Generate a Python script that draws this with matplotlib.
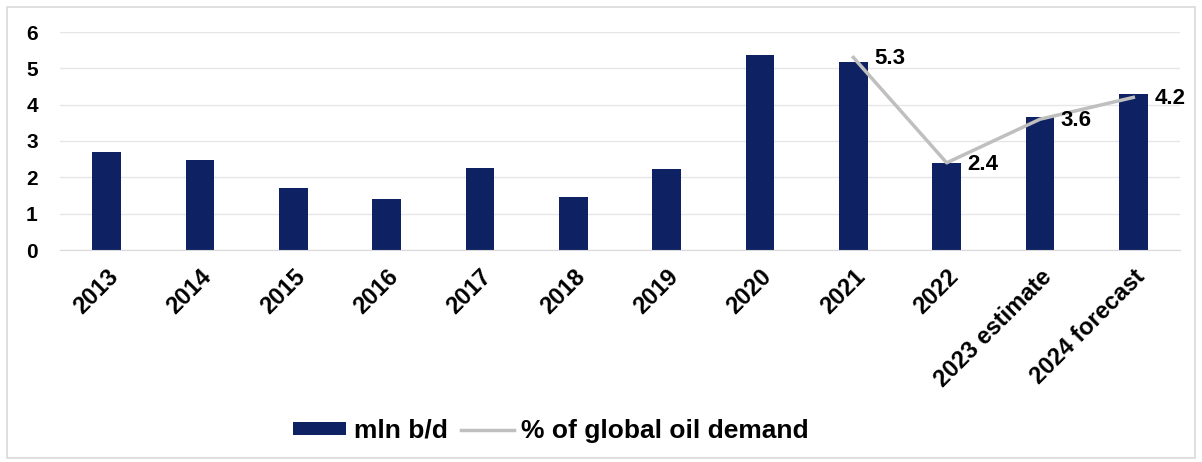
import numpy as np
import matplotlib
matplotlib.use("Agg")
import matplotlib.pyplot as plt
from matplotlib.patches import Rectangle

plt.rcParams["font.family"] = ["Liberation Sans", "DejaVu Sans"]

categories = ["2013", "2014", "2015", "2016", "2017", "2018", "2019",
              "2020", "2021", "2022", "2023 estimate", "2024 forecast"]
mln_bd = [2.71, 2.47, 1.70, 1.40, 2.26, 1.46, 2.23, 5.37, 5.17, 2.40, 3.65, 4.29]
share_idx = [8, 9, 10, 11]
share_pct = [5.3, 2.4, 3.6, 4.2]

BAR = "#0E2263"
LINE = "#BFBFBF"

fig = plt.figure(figsize=(12.02, 4.62), dpi=100)
ax = fig.add_axes([60 / 1202, 1 - 250 / 462, 1120 / 1202, 218 / 462])

x = np.arange(len(categories))
bars = ax.bar(x, mln_bd, width=0.31, color=BAR, label="mln b/d", zorder=2)
line, = ax.plot(share_idx, share_pct, color=LINE, lw=2.5,
                label="% of global oil demand", zorder=3)
for xi, v in zip(share_idx, share_pct):
    ax.annotate(f"{v}", (xi, v), xytext=(15, -1), textcoords="offset points",
                ha="left", va="center", fontsize=16, fontweight="bold", zorder=4)

ax.set_xlim(-0.5, len(categories) - 0.5)
ax.set_ylim(0, 6)
ax.set_yticks(range(7))
ax.grid(axis="y", color="#E6E6E6", lw=1, zorder=0)
ax.set_axisbelow(True)
for s in ["top", "right", "left"]:
    ax.spines[s].set_visible(False)
ax.spines["bottom"].set_color("#D9D9D9")
ax.tick_params(axis="both", length=0)
ax.tick_params(axis="y", pad=16, labelsize=15)
ax.tick_params(axis="x", pad=11, labelsize=17)
ax.set_xticks(x)
ax.set_xticklabels(categories, rotation=45, ha="right", rotation_mode="anchor",
                   fontweight="bold")
for lbl in ax.get_yticklabels():
    lbl.set_fontweight("bold")

fig.legend([bars, line], ["mln b/d", "% of global oil demand"],
           loc="center", bbox_to_anchor=(551 / 1202, 1 - 431 / 462), ncol=2,
           frameon=False, prop={"size": 19, "weight": "bold"},
           handlelength=2.0, handleheight=0.4,
           columnspacing=0.5, handletextpad=0.3)

fig.patches.append(Rectangle((7 / 1202, 4 / 462), 1188 / 1202, 451 / 462,
                             transform=fig.transFigure, fill=False,
                             edgecolor="#D9D9D9", lw=1.2))

fig.savefig("out.png", dpi=100)
